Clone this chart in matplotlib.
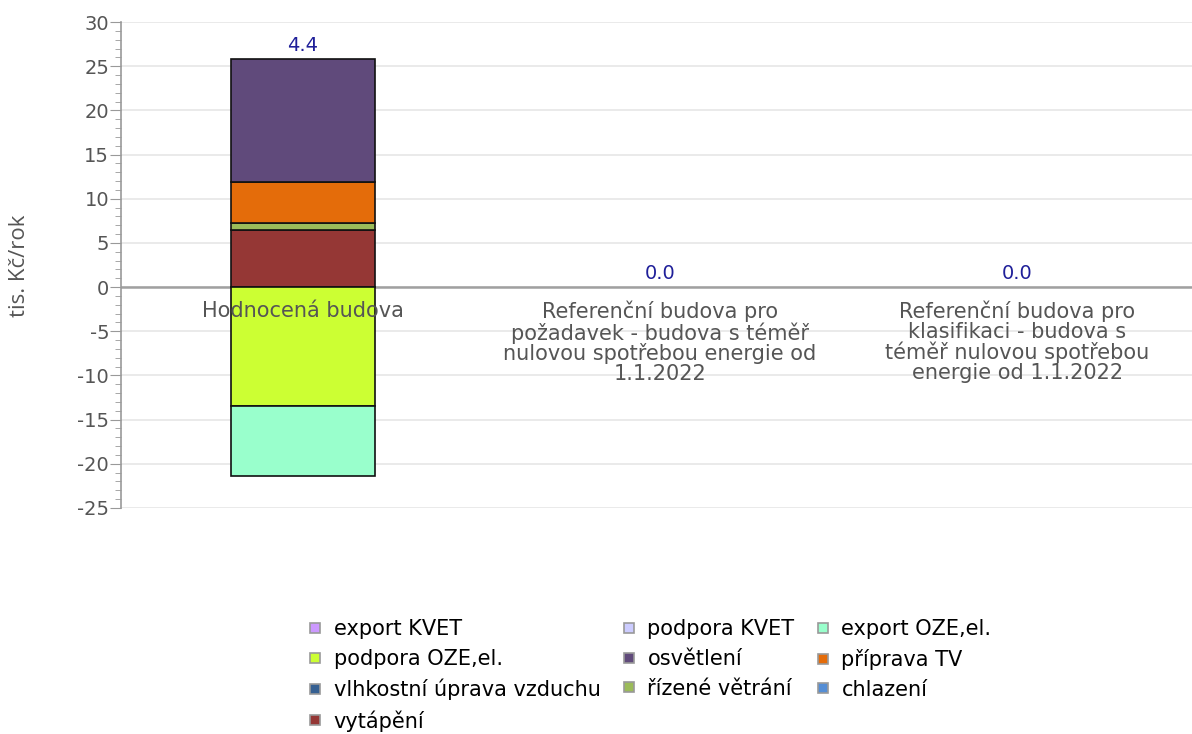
import matplotlib.pyplot as plt
from matplotlib.lines import Line2D
import numpy as np

plt.rcParams["axes.unicode_minus"] = False

categories = [
    "Hodnocená budova",
    "Referenční budova pro\npožadavek - budova s téměř\nnulovou spotřebou energie od\n1.1.2022",
    "Referenční budova pro\nklasifikaci - budova s\ntéměř nulovou spotřebou\nenergie od 1.1.2022",
]

# tis. Kč/rok per building, in stacking order
vytapeni = [6.5, 0.0, 0.0]
vlhkostni_uprava = [0.0, 0.0, 0.0]
rizene_vetrani = [0.7, 0.0, 0.0]
chlazeni = [0.0, 0.0, 0.0]
priprava_tv = [4.7, 0.0, 0.0]
osvetleni = [13.9, 0.0, 0.0]
podpora_oze = [-13.5, 0.0, 0.0]
export_oze = [-7.9, 0.0, 0.0]
podpora_kvet = [0.0, 0.0, 0.0]
export_kvet = [0.0, 0.0, 0.0]

series = [
    ("vytápění", vytapeni, "#953735"),
    ("vlhkostní úprava vzduchu", vlhkostni_uprava, "#366092"),
    ("řízené větrání", rizene_vetrani, "#9bbb59"),
    ("chlazení", chlazeni, "#558ed5"),
    ("příprava TV", priprava_tv, "#e46c0a"),
    ("osvětlení", osvetleni, "#604a7b"),
    ("podpora OZE,el.", podpora_oze, "#ccff33"),
    ("export OZE,el.", export_oze, "#99ffcc"),
    ("podpora KVET", podpora_kvet, "#ccccff"),
    ("export KVET", export_kvet, "#cc99ff"),
]
colors = {name: c for name, _, c in series}

fig = plt.figure(figsize=(11.92, 7.34), dpi=100)
ax = fig.add_axes([0.1015, 0.308, 0.8985, 0.662])

x = np.arange(len(categories))
pos_bottom = np.zeros(len(categories))
neg_bottom = np.zeros(len(categories))
for name, vals, col in series:
    vals = np.array(vals)
    for i, v in enumerate(vals):
        if v == 0:
            continue
        if v > 0:
            ax.bar(x[i], v, bottom=pos_bottom[i], width=0.403, color=col,
                   edgecolor="#111111", linewidth=1.2, zorder=3)
            pos_bottom[i] += v
        else:
            ax.bar(x[i], v, bottom=neg_bottom[i], width=0.403, color=col,
                   edgecolor="#111111", linewidth=1.2, zorder=3)
            neg_bottom[i] += v

# net total above each column
totals = pos_bottom + neg_bottom
for i, t in enumerate(totals):
    ax.annotate(f"{t:.1f}", (x[i], pos_bottom[i]), xytext=(0, 3),
                textcoords="offset points", ha="center", va="bottom",
                color="#1f1f99", fontsize=14)

ax.set_xlim(-0.51, 2.49)
ax.set_ylim(-25, 30)
ax.set_yticks(np.arange(-25, 31, 5))
ax.set_yticks(np.arange(-25, 31, 1), minor=True)
ax.grid(axis="y", color="#e6e6e6", linewidth=1.2, zorder=0)
ax.axhline(0, color="#a0a0a0", linewidth=1.8, zorder=2)
ax.tick_params(axis="y", which="major", length=8, color="#999999",
               labelsize=14, labelcolor="#555555", pad=0.5)
ax.tick_params(axis="y", which="minor", length=4, color="#999999")
ax.tick_params(axis="x", length=0, labelbottom=False)
for s in ["top", "right", "bottom"]:
    ax.spines[s].set_visible(False)
ax.spines["left"].set_color("#999999")
ax.spines["left"].set_linewidth(1.2)

for i, lab in enumerate(categories):
    ax.annotate(lab, (x[i], 0), xytext=(0, -10), textcoords="offset points",
                ha="center", va="top", fontsize=15, color="#555555",
                linespacing=0.98, zorder=4)

fig.text(20 / 1192, 1 - 266 / 734, "tis. Kč/rok", rotation=90, ha="center",
         va="center", fontsize=16, color="#555555", family="Open Sans")

legend_order = ["export KVET", "podpora OZE,el.", "vlhkostní úprava vzduchu", "vytápění",
                "podpora KVET", "osvětlení", "řízené větrání",
                "export OZE,el.", "příprava TV", "chlazení"]
handles = [Line2D([], [], marker="s", linestyle="none", markersize=7.5,
                  markerfacecolor=colors[n], markeredgecolor="#999999",
                  markeredgewidth=1.2) for n in legend_order]
fig.legend(handles, legend_order, loc="upper center", bbox_to_anchor=(0.5445, 0.182),
           ncol=3, frameon=False, fontsize=15, handlelength=0.8,
           handletextpad=0.5, columnspacing=0.95, labelspacing=0.47)

fig.savefig("out.png", dpi=100)
